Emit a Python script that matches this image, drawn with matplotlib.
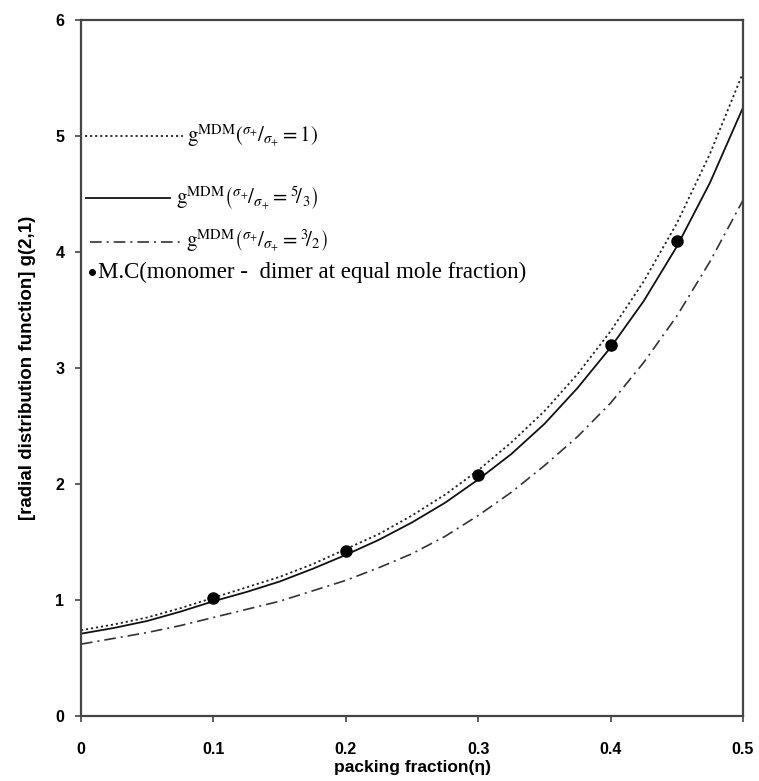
import matplotlib
matplotlib.use("Agg")
import matplotlib.pyplot as plt
from matplotlib.lines import Line2D

# ---- data ----
eta = [0.0, 0.025, 0.05, 0.075, 0.1, 0.125, 0.15, 0.175, 0.2, 0.225, 0.25,
       0.275, 0.3, 0.325, 0.35, 0.375, 0.4, 0.425, 0.45, 0.475, 0.5]
g_ratio1 = [0.74, 0.79, 0.85, 0.93, 1.02, 1.11, 1.20, 1.31, 1.44, 1.57, 1.73,
            1.91, 2.12, 2.36, 2.63, 2.95, 3.32, 3.75, 4.25, 4.85, 5.55]
g_ratio2 = [0.71, 0.76, 0.82, 0.90, 0.99, 1.07, 1.16, 1.27, 1.39, 1.52, 1.67,
            1.84, 2.04, 2.26, 2.52, 2.83, 3.18, 3.58, 4.05, 4.60, 5.25]
g_ratio3 = [0.62, 0.67, 0.72, 0.78, 0.85, 0.92, 0.99, 1.08, 1.17, 1.28, 1.40,
            1.55, 1.73, 1.93, 2.16, 2.41, 2.70, 3.05, 3.45, 3.92, 4.45]
mc_eta = [0.1, 0.2, 0.3, 0.4, 0.45]
mc_g = [1.02, 1.42, 2.08, 3.20, 4.10]

xticks = [0, 0.1, 0.2, 0.3, 0.4, 0.5]
xticklabels = ["0", "0.1", "0.2", "0.3", "0.4", "0.5"]
yticks = [0, 1, 2, 3, 4, 5, 6]

labels = [
    r"$\mathrm{g}^{\mathrm{MDM}}\left(^{\sigma_{\!+}}\!/_{\sigma_{+}} = 1\right)$",
    r"$\mathrm{g}^{\mathrm{MDM}}\left(^{\sigma_{\!+}}\!/_{\sigma_{+}} = {}^{5}\!/_{3}\right)$",
    r"$\mathrm{g}^{\mathrm{MDM}}\left(^{\sigma_{\!+}}\!/_{\sigma_{+}} = {}^{3}\!/_{2}\right)$",
    "M.C(monomer -  dimer at equal mole fraction)",
]

plt.rcParams["mathtext.fontset"] = "stix"

fig = plt.figure(figsize=(7.59, 7.81), dpi=100)
ax = fig.add_axes([0.1067, 0.0832, 0.8723, 0.8906])

ax.plot(eta, g_ratio1, color="#222222", lw=1.3, linestyle=(0, (1.2, 1.6)))
ax.plot(eta, g_ratio2, color="#111111", lw=1.3, linestyle="-")
ax.plot(eta, g_ratio3, color="#333333", lw=1.2, linestyle=(0, (7, 3, 1.2, 3)))
ax.plot(mc_eta, mc_g, "o", color="black", markersize=8, linestyle="none")

ax.set_xlim(0, 0.5)
ax.set_ylim(0, 6)
ax.set_xticks(xticks)
ax.set_xticklabels(xticklabels)
ax.set_yticks(yticks)
for sp in ax.spines.values():
    sp.set_linewidth(1.6)
    sp.set_color("#444444")
ax.tick_params(direction="out", length=4, width=1.2, color="#444444", pad=8,
               labelsize=11.5)
for t in ax.get_xticklabels() + ax.get_yticklabels():
    t.set_fontfamily("Liberation Sans")
    t.set_fontweight("bold")
ax.tick_params(axis="x", pad=15)

ax.set_xlabel("packing fraction(η)", fontfamily="Liberation Sans",
              fontweight="bold", fontsize=12.5, labelpad=2)
ax.set_ylabel("[radial distribution function] g(2,1)", fontfamily="Liberation Sans",
              fontweight="bold", fontsize=13.5, labelpad=14)

# ---- custom legend ----
tr = ax.transData
leg_y = [5.0, 4.47, 4.09, 3.83]
leg_line_x = [(0.003, 0.077), (0.004, 0.067), (0.007, 0.077)]
leg_text_x = [0.080, 0.072, 0.079]
styles = [dict(color="#222222", lw=1.3, linestyle=(0, (1.2, 1.6))),
          dict(color="#111111", lw=1.3, linestyle="-"),
          dict(color="#333333", lw=1.2, linestyle=(0, (7, 3, 1.2, 3)))]
for i in range(3):
    ax.add_line(Line2D(leg_line_x[i], [leg_y[i], leg_y[i]], transform=tr, **styles[i]))
    ax.text(leg_text_x[i], leg_y[i], labels[i], transform=tr, fontsize=15,
            va="center", ha="left", fontfamily="Liberation Serif")
ax.plot([0.0085], [leg_y[3]], "o", color="black", markersize=4)
ax.text(0.013, leg_y[3], labels[3], fontsize=16.5, va="center", ha="left",
        fontfamily="Liberation Serif")

fig.savefig("out.png", dpi=100)
